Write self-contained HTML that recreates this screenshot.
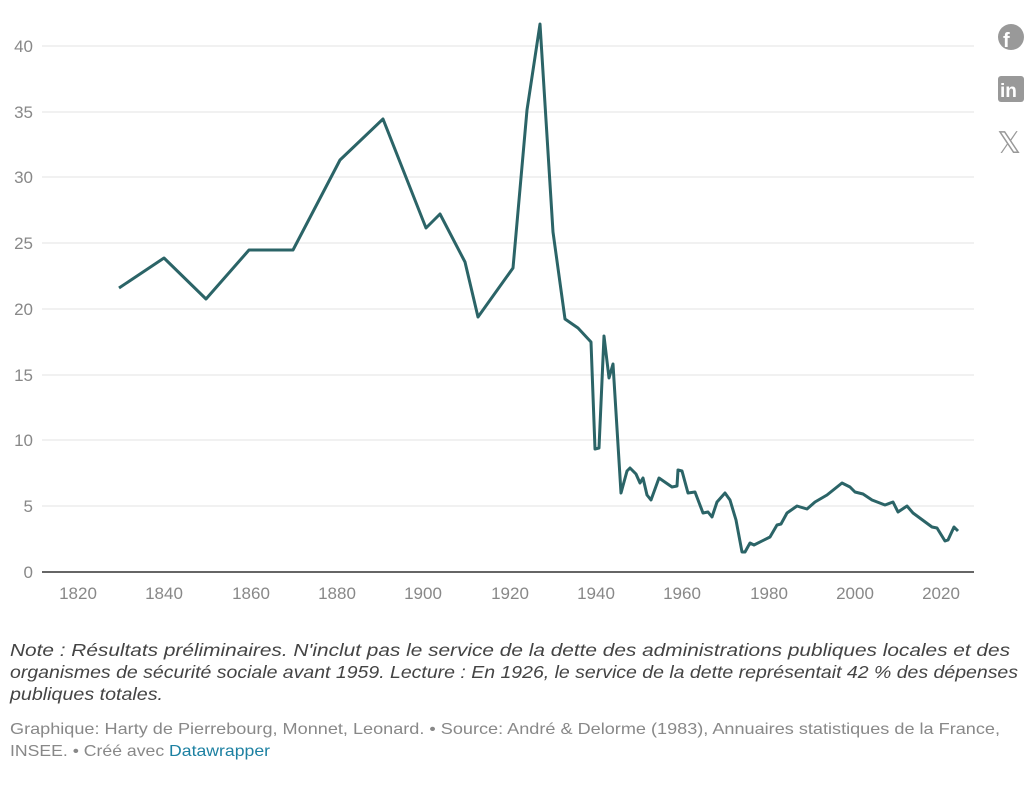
<!DOCTYPE html>
<html><head><meta charset="utf-8"><style>
body{margin:0;background:#fff;width:1024px;height:785px;overflow:hidden;font-family:"Liberation Sans",sans-serif;}
svg{position:absolute;left:0;top:0}
</style></head><body>
<svg width="1024" height="785">
<g stroke="#e3e3e3" stroke-width="1">
<line x1="42" x2="974" y1="46" y2="46"/><line x1="42" x2="974" y1="112" y2="112"/>
<line x1="42" x2="974" y1="177" y2="177"/><line x1="42" x2="974" y1="243" y2="243"/>
<line x1="42" x2="974" y1="309" y2="309"/><line x1="42" x2="974" y1="375" y2="375"/>
<line x1="42" x2="974" y1="440" y2="440"/><line x1="42" x2="974" y1="506" y2="506"/>
</g>
<line x1="42" x2="974" y1="572" y2="572" stroke="#333" stroke-width="1.5"/>
<g font-size="17" fill="#888" text-anchor="end">
<text x="33" y="52">40</text><text x="33" y="118">35</text><text x="33" y="183">30</text>
<text x="33" y="249">25</text><text x="33" y="315">20</text><text x="33" y="381">15</text>
<text x="33" y="446">10</text><text x="33" y="512">5</text><text x="33" y="578">0</text>
</g>
<g font-size="17" fill="#888" text-anchor="middle">
<text x="78" y="599">1820</text><text x="164" y="599">1840</text><text x="251" y="599">1860</text>
<text x="337" y="599">1880</text><text x="423" y="599">1900</text><text x="510" y="599">1920</text>
<text x="596" y="599">1940</text><text x="682" y="599">1960</text><text x="769" y="599">1980</text>
<text x="855" y="599">2000</text><text x="941" y="599">2020</text>
</g>
<polyline fill="none" stroke="#2b6467" stroke-width="3" stroke-linejoin="round" points="119,288 164,258 206,299 249,250 293,250 340,160 383,119 426,228 440,214 465,262 478,317 513,268 527,110 540,24 553,232 565,319 578,328 591,342 595,449 599,448 604,336 609,378 613,364 621,493 627,471 630,468 636,474 640,483 643,478 647,495 651,500 659,478 672,487 677,486 678,470 682,471 688,493 695,492 703,513 708,512 712,517 717,502 725,493 730,500 736,520 742,552 745,552 750,543 754,545 770,537 777,525 781,524 787,513 797,506 807,509 815,502 827,495 842,483 850,487 855,492 863,494 872,500 885,505 893,502 898,512 907,506 913,513 932,527 937,528 945,541 948,540 954,527 958,531"/>
<g fill="#999">
<circle cx="1011" cy="37" r="13"/>
<rect x="998" y="76" width="26" height="26" rx="3"/>
</g>
<text x="1003" y="47" font-size="20" font-weight="bold" fill="#fff">f</text>
<text x="1000" y="97" font-size="19" font-weight="bold" fill="#fff">in</text>
<text x="997" y="153" font-size="30" fill="#999">𝕏</text>
<g font-size="17.6" font-style="italic" fill="#444">
<text x="10" y="656" textLength="1000" lengthAdjust="spacingAndGlyphs">Note : Résultats préliminaires. N'inclut pas le service de la dette des administrations publiques locales et des</text>
<text x="10" y="678" textLength="1008" lengthAdjust="spacingAndGlyphs">organismes de sécurité sociale avant 1959. Lecture : En 1926, le service de la dette représentait 42 % des dépenses</text>
<text x="10" y="700" textLength="153" lengthAdjust="spacingAndGlyphs">publiques totales.</text>
</g>
<g font-size="16" fill="#888">
<text x="10" y="734" textLength="990" lengthAdjust="spacingAndGlyphs">Graphique: Harty de Pierrebourg, Monnet, Leonard. • Source: André &amp; Delorme (1983), Annuaires statistiques de la France,</text>
<text x="10" y="756" textLength="260" lengthAdjust="spacingAndGlyphs">INSEE. • Créé avec <tspan fill="#1d81a2">Datawrapper</tspan></text>
</g>
</svg>
</body></html>
